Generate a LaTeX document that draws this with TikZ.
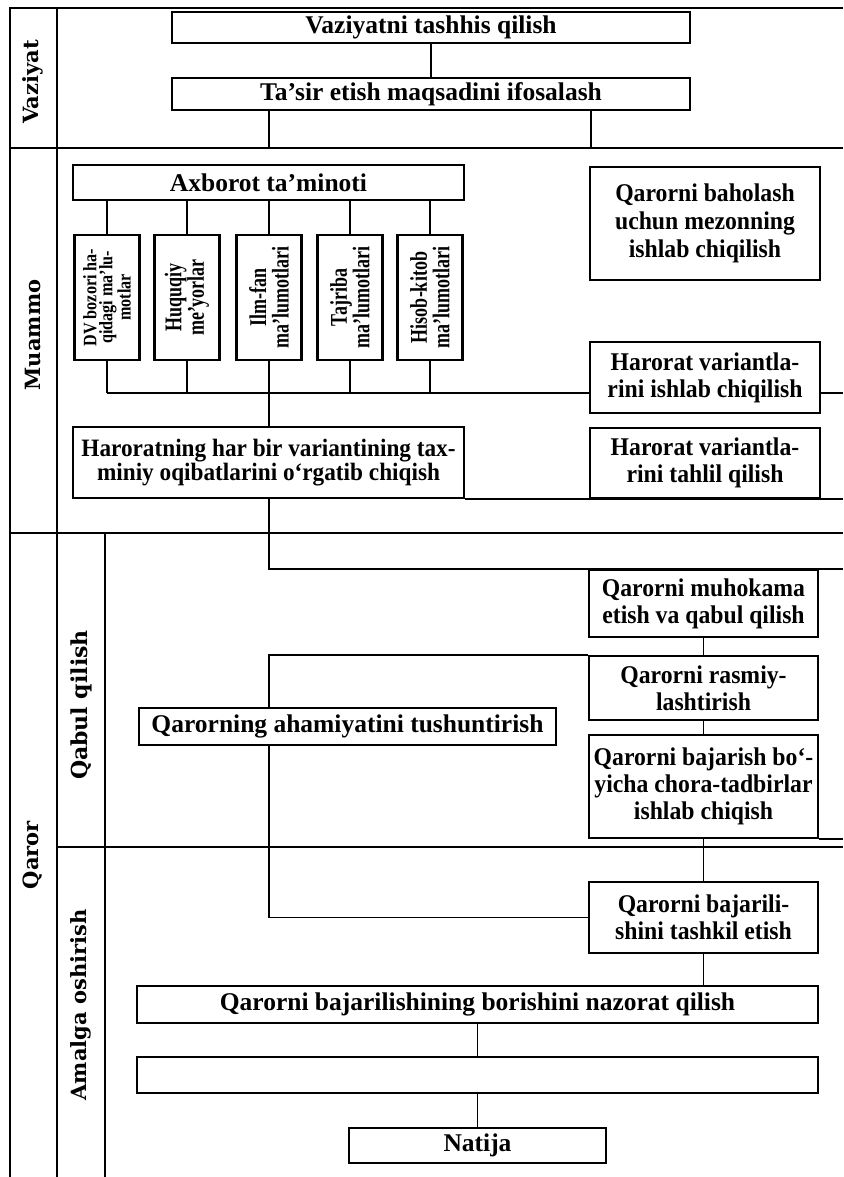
\documentclass[tikz,border=0pt]{standalone}
\usepackage{fontspec}
\setmainfont{Liberation Serif}
\newfontfamily\boxserif[FakeStretch=0.93]{Liberation Serif}
\newfontfamily\vserif[FakeStretch=0.75]{Liberation Serif}
\newfontfamily\dvserif[FakeStretch=0.85]{Liberation Serif}
\newfontfamily\lanefont{DejaVu Serif}
\newcommand\boxfont{\boxserif\fontsize{25.5}{27}\selectfont\bfseries}
\newcommand\widefont{\fontsize{25.5}{27}\selectfont\bfseries}
\newcommand\vfont{\vserif\fontsize{24}{22.5}\selectfont\bfseries}
\newcommand\dvfont{\dvserif\fontsize{19}{16}\selectfont\bfseries}
\begin{document}
\begin{tikzpicture}[x=1pt,y=-1pt,
  lane/.style={line width=2.8pt},
  conn/.style={line width=1.9pt},
  box/.style={draw,line width=2.3pt,inner sep=0pt,align=center,font=\boxfont},
  wbox/.style={box,font=\widefont},
  vbox/.style={draw,line width=2.3pt,inner sep=0pt,minimum width=65pt,minimum height=125pt},
  vtext/.style={rotate=90,inner sep=0pt,align=center,font=\vfont},
  lanelabel/.style={rotate=90,inner sep=0pt,font=\lanefont\bfseries}]
\useasboundingbox (0,0) rectangle (843,1177);
% lanes
\draw[lane] (843,8) -- (10,8) -- (10,1177);
\draw[lane] (57,8) -- (57,1177);
\draw[lane] (10,148) -- (843,148);
\draw[lane] (10,533) -- (843,533);
\draw[lane] (105,533) -- (105,1177);
\draw[lane] (57,847) -- (843,847);
\node[lanelabel,font=\lanefont\bfseries\fontsize{21}{24}\selectfont] (lv) at (33,82) {Vaziyat};
\node[lanelabel,font=\lanefont\bfseries\fontsize{21}{24}\selectfont] (lm) at (33,335) {Muammo};
\node[lanelabel,font=\lanefont\bfseries\fontsize{21}{24}\selectfont] (lq) at (33,855) {Qaror};
\node[lanelabel,font=\lanefont\bfseries\fontsize{22}{24}\selectfont] (lqq) at (81,705) {Qabul qilish};
\node[lanelabel,font=\lanefont\bfseries\fontsize{21}{24}\selectfont] (la) at (81,1005) {Amalga oshirish};
% helper coordinates
\coordinate (R) at (843,0);
\coordinate (xl) at (269,0);
\coordinate (bus) at (0,393);
\coordinate (l1) at (269,148);
\coordinate (l2) at (591,148);
% Vaziyat
\node[wbox,minimum width=518pt,minimum height=31pt] (v1) at (431,27.5) {Vaziyatni tashhis qilish};
\node[wbox,minimum width=518pt,minimum height=32pt] (v2) at (431,94) {Ta’sir etish maqsadini ifosalash};
\draw[conn] (v1) -- (v2);
\draw[conn] (v2.south -| l1) -- (l1);
\draw[conn] (v2.south -| l2) -- (l2);
% Muammo
\node[wbox,minimum width=391pt,minimum height=35pt] (ax) at (268.5,182.5) {Axborot ta’minoti};
\node[vbox] (b1) at (107,297.5) {};
\node[vbox] (b2) at (187,297.5) {};
\node[vbox] (b3) at (269,297.5) {};
\node[vbox] (b4) at (350,297.5) {};
\node[vbox] (b5) at (430,297.5) {};
\node[vtext,font=\dvfont] (t1) at (b1.center) {DV bozori ha-\\qidagi ma’lu-\\motlar};
\node[vtext] (t2) at (b2.center) {Huquqiy\\me’yorlar};
\node[vtext] (t3) at (b3.center) {Ilm-fan\\ma’lumotlari};
\node[vtext] (t4) at (b4.center) {Tajriba\\ma’lumotlari};
\node[vtext] (t5) at (b5.center) {Hisob-kitob\\ma’lumotlari};
\foreach \b in {b1,b2,b3,b4,b5}{
  \draw[conn] (ax.south -| \b) -- (\b.north);
  \draw[conn] (\b.south) -- (\b.south |- bus);
}
\node[box,minimum width=230pt,minimum height=113pt,font=\boxfont\fontsize{25.5}{28}\selectfont] (bh) at (705,223.5) {Qarorni baholash\\uchun mezonning\\ishlab chiqilish};
\node[box,minimum width=230pt,minimum height=71pt] (hv) at (705,377.5) {Harorat variantla-\\rini ishlab chiqilish};
\node[box,minimum width=230pt,minimum height=70pt] (ht) at (705,463) {Harorat variantla-\\rini tahlil qilish};
\node[box,minimum width=391pt,minimum height=71pt,font=\boxfont\fontsize{25}{24.5}\selectfont] (hr) at (268.5,462.5) {Haroratning har bir variantining tax-\\miniy oqibatlarini o‘rgatib chiqish};
\draw[conn] (b1.south |- bus) -- (hv.west |- bus);
\draw[conn] (hv.east |- bus) -- (R |- bus);
\draw[conn] (b3.south |- bus) -- (b3.south |- hr.north);
\draw[conn] (hr.south east) -- (R |- hr.south east);
% Qaror
\node[box,minimum width=229pt,minimum height=67pt] (mu) at (703.5,603.5) {Qarorni muhokama\\etish va qabul qilish};
\node[box,minimum width=229pt,minimum height=64pt] (ra) at (703.5,688) {Qarorni rasmiy-\\lashtirish};
\node[wbox,minimum width=417pt,minimum height=37pt] (qa) at (347.5,726.5) {Qarorning ahamiyatini tushuntirish};
\node[box,minimum width=229pt,minimum height=103pt] (ba) at (703.5,786.5) {Qarorni bajarish bo‘-\\yicha chora-tadbirlar\\ishlab chiqish};
\node[box,minimum width=229pt,minimum height=71pt] (tk) at (703.5,917.5) {Qarorni bajarili-\\shini tashkil etish};
\node[wbox,minimum width=681pt,minimum height=37pt] (na) at (477.5,1004.5) {Qarorni bajarilishining borishini nazorat qilish};
\node[wbox,minimum width=681pt,minimum height=36pt] (em) at (477.5,1075) {};
\node[wbox,minimum width=257pt,minimum height=35pt] (nt) at (477.5,1145.5) {Natija};
\draw[conn] (hr.south -| xl) -- (xl |- mu.north) -- (R |- mu.north);
\draw[conn] (mu) -- (ra);
\draw[conn] (ra.north west) -- (ra.north west -| xl) -- (qa.north -| xl);
\draw[conn] (ra) -- (ba);
\draw[conn] (ba.south east) -- (R |- ba.south east);
\draw[conn] (qa.south -| xl) -- (xl |- tk.west) -- (tk.west);
\draw[conn] (ba) -- (tk);
\draw[conn] (tk.south) -- (tk.south |- na.north);
\draw[conn] (na) -- (em);
\draw[conn] (em) -- (nt);
\end{tikzpicture}
\end{document}
